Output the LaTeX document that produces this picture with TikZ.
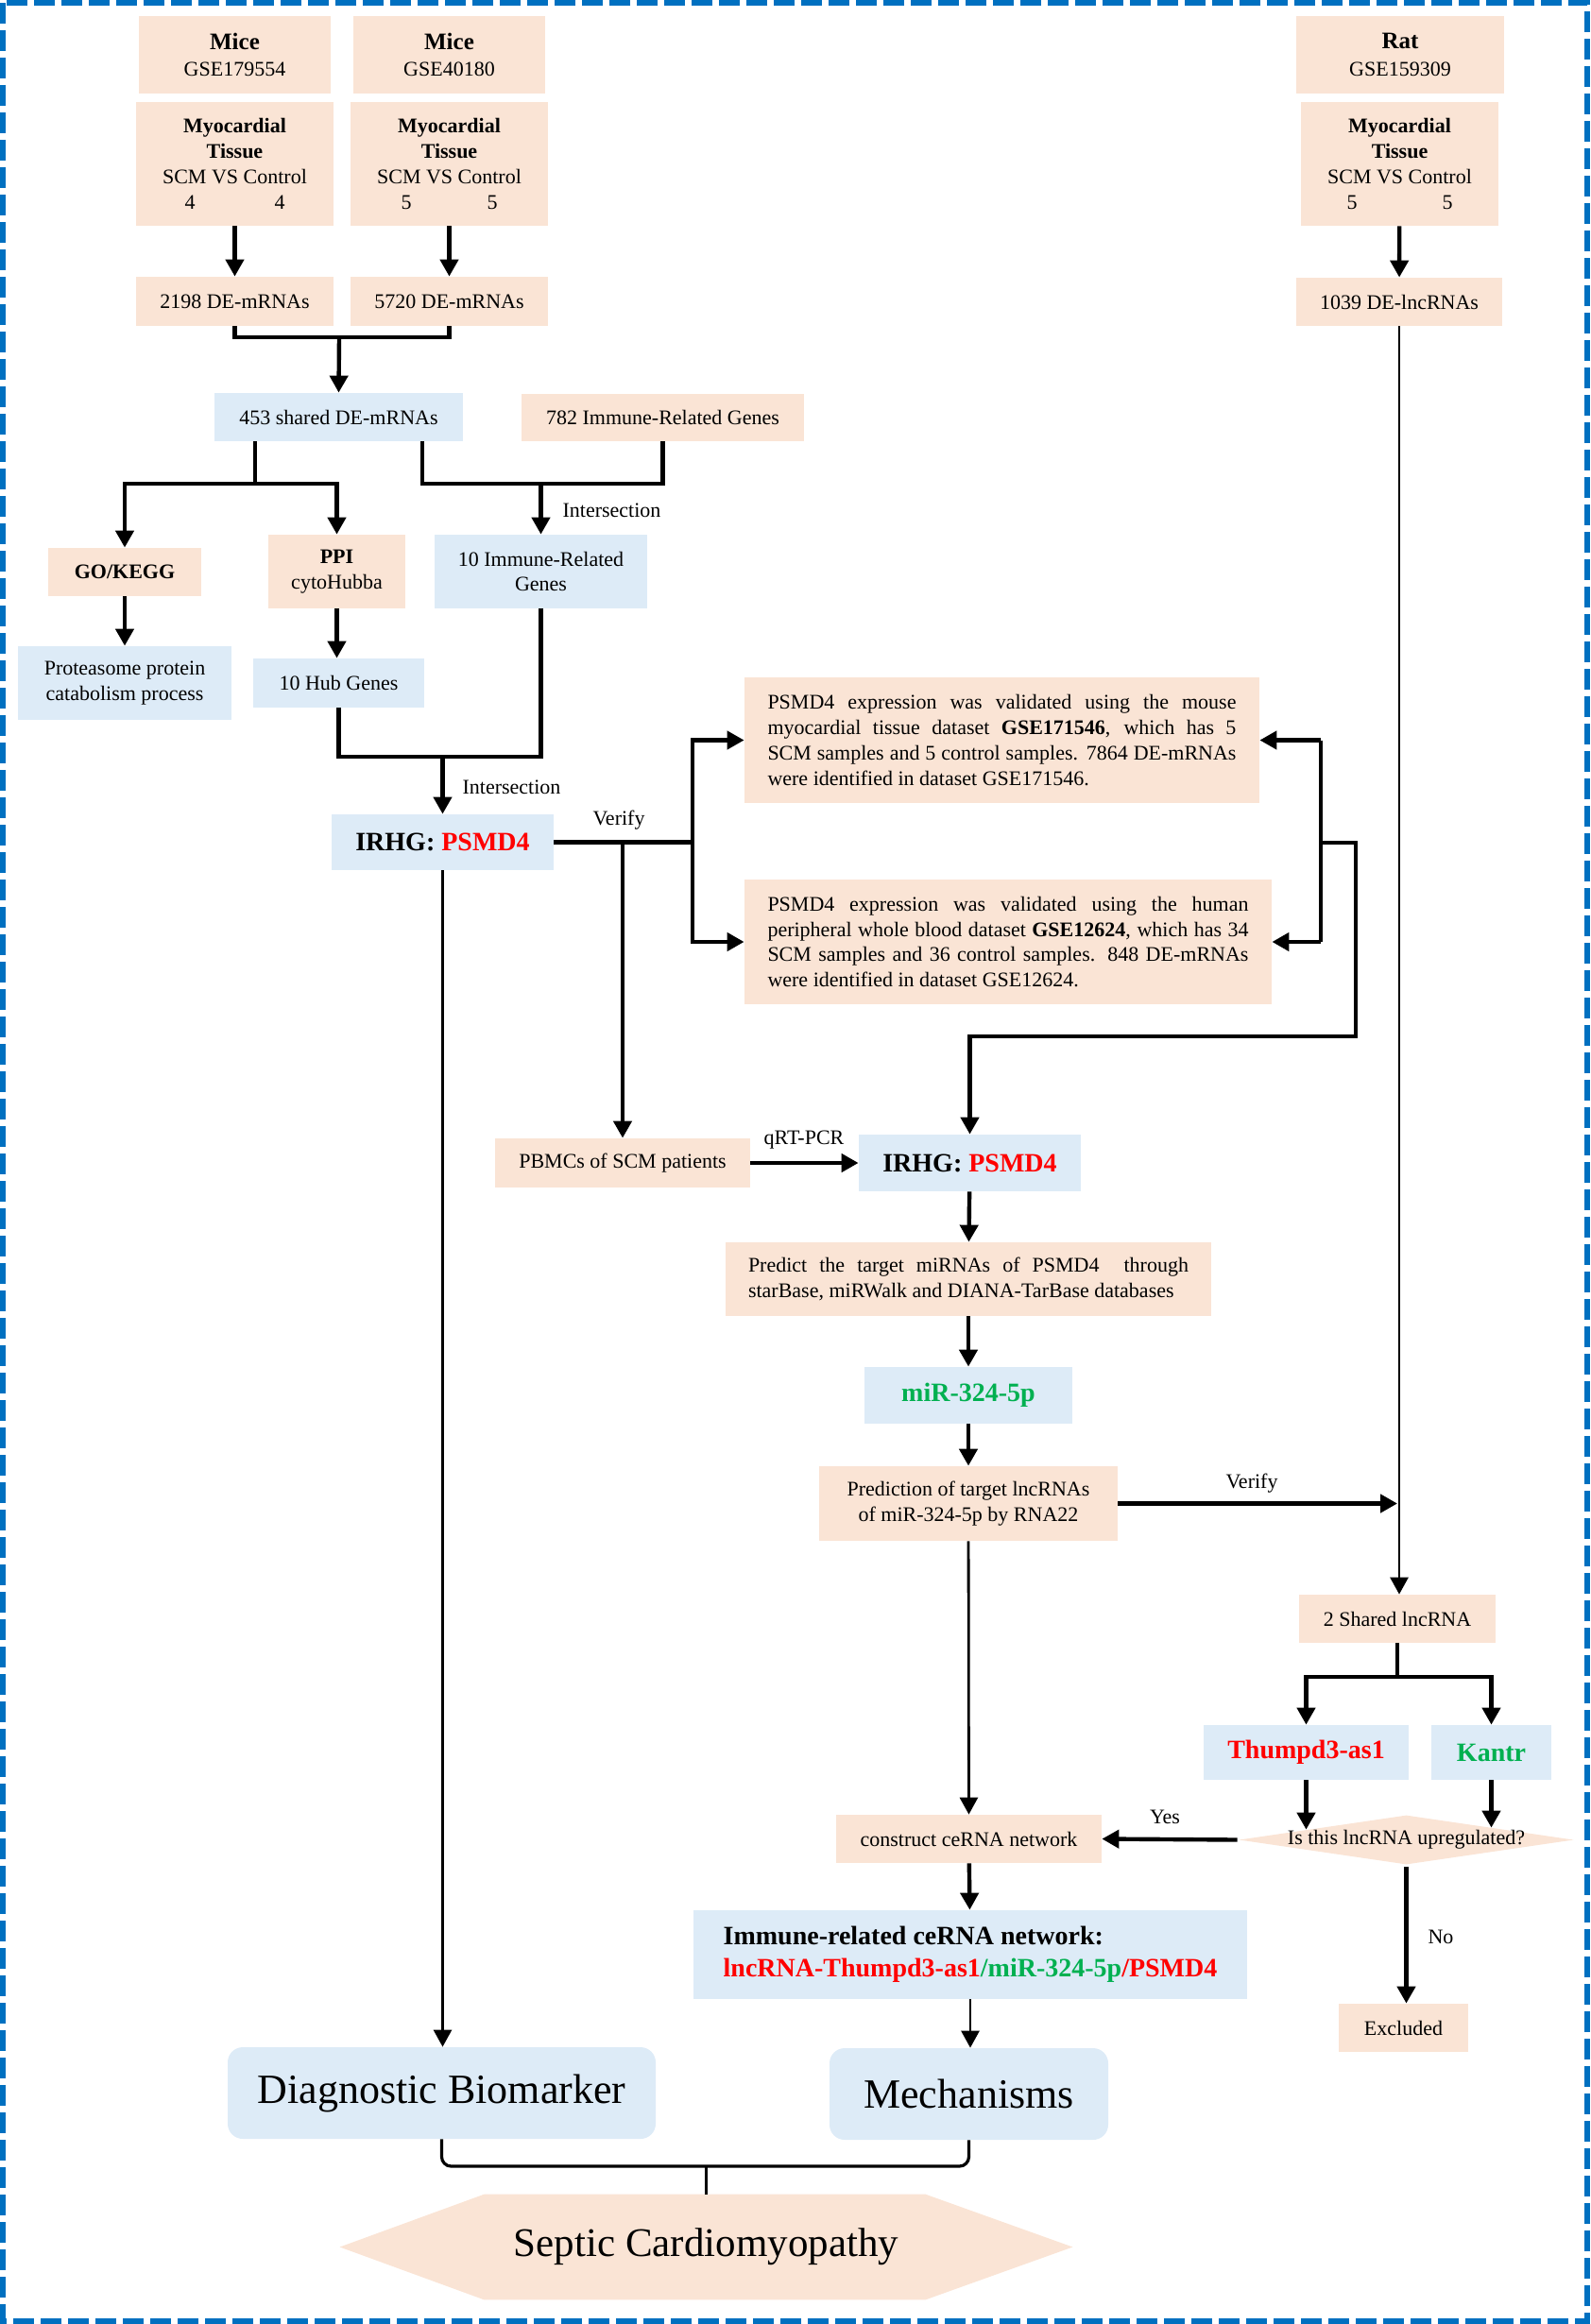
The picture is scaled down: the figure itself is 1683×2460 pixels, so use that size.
\documentclass[tikz,border=0pt]{standalone}
\usepackage{fontspec}
\setmainfont{Liberation Serif}
\usetikzlibrary{arrows.meta,calc,backgrounds}
\definecolor{peach}{HTML}{FAE4D5}
\definecolor{lblue}{HTML}{DDEBF7}
\definecolor{bord}{HTML}{0070C0}
\definecolor{grn}{HTML}{00B050}
\definecolor{rd}{HTML}{FF0000}
\newcommand\fsN{\fontsize{11}{13.4}\selectfont}
\newcommand\fsM{\fontsize{12.5}{15}\selectfont}
\newcommand\fsL{\fontsize{14}{17}\selectfont}
\newcommand\fsXL{\fontsize{22}{26}\selectfont}
\begin{document}
\begin{tikzpicture}[x=0.5pt,y=-0.5pt,
  pch/.style={fill=peach, inner sep=0pt, align=center, font=\fsN},
  blu/.style={fill=lblue, inner sep=0pt, align=center, font=\fsN},
  sz/.style 2 args={minimum width=#1*0.5pt, minimum height=#2*0.5pt},
  con/.style={line width=2.2pt},
  arr/.style={line width=2.2pt, -{Triangle[width=9.5pt,length=9pt]}},
  thinln/.style={line width=1.4pt},
  thinarr/.style={line width=1.4pt, -{Triangle[width=9.5pt,length=9pt]}},
  lbl/.style={font=\fsN, inner sep=0pt},
  border/.style={draw=bord, line width=3pt, dash pattern=on 11pt off 3.5pt}]
\useasboundingbox (0,0) rectangle (1683,2460);
\draw[border] (3,3) rectangle (1680,2457);

% top datasets
\node[pch,sz={203}{82}] (mice1) at (248.5,58) {{\fsM\textbf{Mice}}\\[1pt]GSE179554};
\node[pch,sz={203}{82}] (mice2) at (475.5,58) {{\fsM\textbf{Mice}}\\[1pt]GSE40180};
\node[pch,sz={220}{82}] (rat) at (1482,58) {{\fsM\textbf{Rat}}\\[1pt]GSE159309};
\node[pch,sz={209}{131}] (myo1) at (248.5,173.5) {\textbf{Myocardial}\\\textbf{Tissue}\\SCM VS Control\\4\hspace{42pt}4};
\node[pch,sz={209}{131}] (myo2) at (475.5,173.5) {\textbf{Myocardial}\\\textbf{Tissue}\\SCM VS Control\\5\hspace{40pt}5};
\node[pch,sz={209}{131}] (myo3) at (1481.5,173.5) {\textbf{Myocardial}\\\textbf{Tissue}\\SCM VS Control\\5\hspace{45pt}5};
\node[pch,sz={209}{52}] (de1) at (248.5,319) {2198 DE-mRNAs};
\node[pch,sz={209}{52}] (de2) at (475.5,319) {5720 DE-mRNAs};
\node[pch,sz={218}{51}] (de3) at (1481,319.5) {1039 DE-lncRNAs};

\node[blu,sz={263}{51}] (sh453) at (358.5,441.5) {453 shared DE-mRNAs};
\node[pch,sz={299}{50}] (irg) at (701.5,442) {782 Immune-Related Genes};
\node[pch,sz={162}{51}] (gok) at (132,605.5) {\textbf{GO/KEGG}};
\node[pch,sz={145}{78}] (ppi) at (356.5,605) {\textbf{PPI}\\cytoHubba};
\node[blu,sz={225}{78}] (imm) at (572.5,605) {10 Immune-Related\\Genes};
\node[blu,sz={226}{78}] (prot) at (132,723) {Proteasome protein\\catabolism process};
\node[blu,sz={181}{52}] (hub) at (358.5,723) {10 Hub Genes};
\node[blu,sz={235}{59}] (irhg1) at (468.5,891.5) {\fsL\textbf{IRHG: \textcolor{rd}{PSMD4}}};

\node[pch,sz={545}{133},text width=248pt,align=justify] (val1) at (1060.5,783.5) {PSMD4 expression was validated using the mouse\linebreak myocardial tissue dataset \textbf{GSE171546}, which has 5\linebreak SCM samples and 5 control samples. 7864 DE-mRNAs\linebreak were identified in dataset GSE171546.};
\node[pch,sz={558}{132},text width=254.5pt,align=justify] (val2) at (1067,997) {PSMD4 expression was validated using the human\linebreak peripheral whole blood dataset \textbf{GSE12624}, which has 34\linebreak SCM samples and 36 control samples. 848 DE-mRNAs\linebreak were identified in dataset GSE12624.};

\node[pch,sz={270}{52}] (pbmc) at (659,1231) {PBMCs of SCM patients};
\node[blu,sz={235}{60}] (irhg2) at (1026.5,1231) {\fsL\textbf{IRHG: \textcolor{rd}{PSMD4}}};
\node[pch,sz={514}{78},text width=233pt,align=justify] (pred) at (1025,1354) {Predict the target miRNAs of PSMD4\ \ through\linebreak starBase, miRWalk and DIANA-TarBase databases};
\node[blu,sz={220}{60}] (mir) at (1025,1477) {\fsL\textbf{\textcolor{grn}{miR-324-5p}}};
\node[pch,sz={316}{79}] (plnc) at (1025,1591.5) {Prediction of target lncRNAs\\of miR-324-5p by RNA22};

\node[pch,sz={208}{51}] (sh2) at (1479,1713.5) {2 Shared lncRNA};
\node[blu,sz={217}{58}] (thu) at (1382.5,1855) {\fsL\textbf{\textcolor{rd}{Thumpd3-as1}}};
\node[blu,sz={127}{58}] (kan) at (1578.5,1855) {\fsL\textbf{\textcolor{grn}{Kantr}}};
\node[sz={353}{51},inner sep=0pt,font=\fsN] (q) at (1488.5,1947.5) {Is this lncRNA upregulated?};
\node[pch,sz={281}{51}] (cons) at (1025.5,1946.5) {construct ceRNA network};
\node[pch,sz={137}{51}] (excl) at (1485.5,2146.5) {Excluded};
\node[blu,sz={586}{94},align=left] (net) at (1027,2069) {\fsL\textbf{Immune-related ceRNA network:}\\[3.5pt]\fsL\textbf{\textcolor{rd}{lncRNA-Thumpd3-as1}\textcolor{grn}{/miR-324-5p}\textcolor{rd}{/PSMD4}}};

\node[blu,sz={453}{97},rounded corners=8pt,font=\fsXL] (diag) at (467.5,2215.5) {Diagnostic Biomarker};
\node[blu,sz={295}{97},rounded corners=8pt,font=\fsXL] (mech) at (1025.5,2216.5) {Mechanisms};
\node[sz={775}{111},inner sep=0pt,font=\fontsize{21.5}{25}\selectfont] (sep) at (747.5,2378.5) {Septic Cardiomyopathy};

\begin{scope}[on background layer]
\fill[peach] (q.west) -- (q.north) -- (q.east) -- (q.south) -- cycle;
\fill[peach] (sep.west) -- ($(sep.north west)+(153,0)$) -- ($(sep.north east)+(-156,0)$) -- (sep.east) -- ($(sep.south east)+(-156,0)$) -- ($(sep.south west)+(153,0)$) -- cycle;
\end{scope}

% labels
\node[lbl] (lint1) at (647.5,540) {Intersection};
\node[lbl] (lint2) at (541.5,833) {Intersection};
\node[lbl] (lver1) at (655,868) {Verify};
\node[lbl] (lqrt) at (851,1207) {qRT-PCR};
\node[lbl] (lver2) at (1325,1570) {Verify};
\node[lbl] (lyes) at (1233,1923) {Yes};
\node[lbl] (lno) at (1525,2050) {No};

% coordinates
\coordinate (j1) at (359,357);
\coordinate (j2) at (270,512);
\coordinate (j3) at (572.5,512);
\coordinate (j4) at (468.5,801);
\coordinate (v1) at (733,891.5);
\coordinate (r1) at (1398,783.5);
\coordinate (r2) at (1398,997);
\coordinate (r3) at (1398,892);
\coordinate (r4) at (1435,1097);
\coordinate (vt) at (1479,1591.5);
\coordinate (j5) at (1479,1775);
\coordinate (j6) at (747.5,2293);

% connectors
\draw[arr] (myo1) -- (de1);
\draw[arr] (myo2) -- (de2);
\draw[arr] (myo3) -- (de3);
\draw[con] (de1.south) |- (j1) -| (de2.south);
\draw[arr] (j1) -- (sh453.north);
\draw[con] ($(sh453.south)+(-88.5,0)$) -- (j2);
\draw[arr] (j2) -| (gok.north);
\draw[arr] (j2) -| (ppi.north);
\draw[con] ($(sh453.south)+(88.5,0)$) |- (j3) -| (irg.south);
\draw[arr] (j3) -- (imm.north);
\draw[arr] (gok) -- (prot);
\draw[arr] (ppi.south) -- (ppi.south |- hub.north);
\draw[con] (hub.south) |- (j4) -| (imm.south);
\draw[arr] (j4) -- (irhg1.north);
\draw[con] (irhg1.east) -- (v1);
\draw[arr] (v1) |- (val1.west);
\draw[arr] (v1) |- (val2.west);
\draw[arr] (pbmc.north |- irhg1.east) -- (pbmc.north);
\draw[con] (r1) -- (r2);
\draw[arr] (r1) -- (val1.east);
\draw[arr] (r2) -- (val2.east);
\draw[arr] (r3) -| (r4) -| (irhg2.north);
\draw[arr] (pbmc) -- (irhg2);
\draw[arr] (irhg2) -- (pred);
\draw[arr] (pred) -- (mir);
\draw[arr] (mir) -- (plnc);
\draw[arr] (plnc.east) -- (vt);
\draw[thinarr] (de3.south) -- (de3.south |- sh2.north);
\draw[con] (sh2.south) -- (j5);
\draw[arr] (j5) -| (thu.north);
\draw[arr] (j5) -| (kan.north);
\draw[arr] (thu.south) -- ($(thu.south |- q.north)+(0,15)$);
\draw[arr] (kan.south) -- ($(kan.south |- q.north)+(0,13)$);
\draw[arr] ($(q.west)+(-2,0)$) -- (cons.east);
\draw[arr] ($(q.south)+(0,3)$) -- (q.south |- excl.north);
\draw[thinarr] (plnc) -- (cons);
\draw[arr] (cons) -- (net);
\draw[thinarr] (net.south) -- (net.south |- mech.north);
\draw[thinarr] (irhg1.south) -- (irhg1.south |- diag.north);
\draw[line width=1.6pt, rounded corners=5pt] (diag.south) |- (j6) -| (mech.south);
\draw[line width=1.6pt] (j6) -- (sep.north);
\end{tikzpicture}
\end{document}
